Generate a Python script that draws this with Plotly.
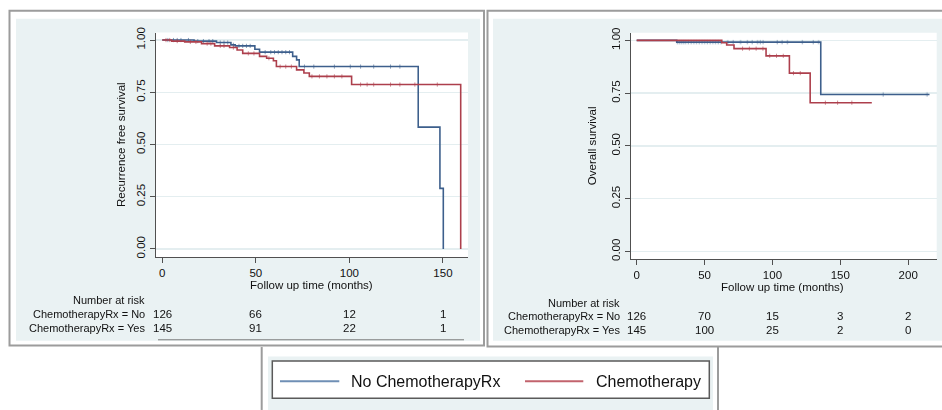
import plotly.graph_objects as go

W, H = 942, 410

# ---------------- data ----------------
# Recurrence free survival (left panel)
rfs_no_t = [0, 17, 29, 36.7, 39, 49.5, 52, 69.7, 71.8, 73.2, 136.8, 148.4, 150.2]
rfs_no_s = [1.0, 0.995, 0.988, 0.977, 0.972, 0.956, 0.942, 0.922, 0.905, 0.873, 0.583, 0.290, 0.0]
rfs_yes_t = [0, 5, 12, 21, 28, 36, 40, 43, 52, 55.8, 59.4, 61, 71.8, 75.7, 78.6, 101.2, 159.5]
rfs_yes_s = [1.0, 0.995, 0.991, 0.983, 0.972, 0.964, 0.952, 0.936, 0.922, 0.913, 0.901, 0.873,
             0.857, 0.842, 0.826, 0.787, 0.0]
rfs_no_cens = [3, 6, 8, 10, 14, 19, 22, 25, 27, 31, 33, 35, 38, 41, 43, 45, 47, 55, 58, 60, 62,
               64, 66, 68, 76, 81, 92, 100.5, 106, 113, 122, 127]
rfs_yes_cens = [2, 4, 8, 15, 18, 24, 26, 31, 33, 38, 46, 49, 57, 63, 66, 69, 80, 84, 88, 92, 96,
                106, 109.5, 113, 122, 127, 135, 147]

# Overall survival (right panel)
os_no_t = [0, 29.5, 135.6]
os_no_s = [1.0, 0.992, 0.744]
os_no_last = 215.7
os_yes_t = [0, 62.7, 66.3, 71.7, 95.3, 112.5, 127.8]
os_yes_s = [1.0, 0.989, 0.978, 0.961, 0.927, 0.845, 0.705]
os_yes_last = 173.2
os_no_cens = [30, 31.5, 33, 34.5, 36, 38, 40, 42, 44, 46, 48, 50, 52, 54, 56, 58, 60, 62, 67, 71,
              76.5, 81.5, 85, 89, 91, 93, 103.5, 107, 111, 122, 130, 134, 181.5, 213.8]
os_yes_cens = [78, 83, 88, 93, 98, 103, 108, 115.5, 120.5, 139, 148, 158.5]

# Number at risk tables
risk_rows = ["ChemotherapyRx = No", "ChemotherapyRx = Yes"]
rfs_risk_times = [0, 50, 100, 150]
rfs_risk_no = [126, 66, 12, 1]
rfs_risk_yes = [145, 91, 22, 1]
os_risk_times = [0, 50, 100, 150, 200]
os_risk_no = [126, 70, 15, 3, 2]
os_risk_yes = [145, 100, 25, 2, 0]

legend_labels = ["No ChemotherapyRx", "Chemotherapy"]

# ---------------- styles ----------------
BLUE = "#3d5f8c"
RED = "#ad3f4c"
BLUE_LEG = "#6f8fb5"
RED_LEG = "#c2636d"
BG = "#eaf2f3"
GRID = "#e4eef0"
FRAME = "#9c9c9c"
FONT = "Liberation Sans, Arial, sans-serif"


def px(x):
    return x / W


def py(y):
    return 1 - y / H


def step_at(ts, ss, t):
    v = ss[0]
    for ti, si in zip(ts, ss):
        if ti <= t:
            v = si
    return v


fig = go.Figure()


def add_curve(ts, ss, last, cens, color, xa, ya):
    xs = list(ts)
    ys = list(ss)
    if last is not None:
        xs.append(last)
        ys.append(ss[-1])
    fig.add_trace(go.Scatter(x=xs, y=ys, mode="lines", line=dict(color=color, width=1.6, shape="hv"),
                             xaxis=xa, yaxis=ya, showlegend=False, hoverinfo="skip"))
    fig.add_trace(go.Scatter(x=cens, y=[step_at(ts, ss, c) for c in cens], mode="markers",
                             marker=dict(symbol="line-ns", size=3, line=dict(width=1, color=color)),
                             opacity=0.6, xaxis=xa, yaxis=ya, showlegend=False, hoverinfo="skip"))


add_curve(rfs_no_t, rfs_no_s, None, rfs_no_cens, BLUE, "x", "y")
add_curve(rfs_yes_t, rfs_yes_s, None, rfs_yes_cens, RED, "x", "y")
add_curve(os_no_t, os_no_s, os_no_last, os_no_cens, BLUE, "x2", "y2")
add_curve(os_yes_t, os_yes_s, os_yes_last, os_yes_cens, RED, "x2", "y2")

ytick_vals = [0, 0.25, 0.5, 0.75, 1.0]
ytick_text = ["0.00", "0.25", "0.50", "0.75", "1.00"]

axis_common = dict(showline=True, linecolor="#505050", linewidth=1, ticks="outside", ticklen=5,
                   tickcolor="#505050", tickfont=dict(family=FONT, size=11.5, color="#111"),
                   zeroline=False, fixedrange=True)

fig.update_layout(
    width=W, height=H,
    margin=dict(l=0, r=0, t=0, b=0),
    paper_bgcolor="white",
    plot_bgcolor="rgba(0,0,0,0)",
    font=dict(family=FONT, color="#111"),
    xaxis=dict(domain=[px(155.7), px(468)], range=[-3.5, 163.4], tickvals=rfs_risk_times,
               showgrid=False, anchor="y", **axis_common),
    yaxis=dict(domain=[py(256.7), py(28)], range=[-0.04, 1.036], tickvals=ytick_vals,
               ticktext=ytick_text, tickangle=-90, showgrid=True, gridcolor=GRID, gridwidth=1.5,
               anchor="x", **axis_common),
    xaxis2=dict(domain=[px(630.7), px(936.7)], range=[-4.4, 221], tickvals=os_risk_times,
                showgrid=False, anchor="y2", **axis_common),
    yaxis2=dict(domain=[py(258.3), py(28.3)], range=[-0.035, 1.036], tickvals=ytick_vals,
                ticktext=ytick_text, tickangle=-90, showgrid=True, gridcolor=GRID, gridwidth=1.5,
                anchor="x2", **axis_common),
)

shapes = []


def rect(x0, y0, x1, y1, fill=None, line_color=None, lw=0):
    shapes.append(dict(type="rect", xref="paper", yref="paper", x0=px(x0), x1=px(x1),
                       y0=py(y1), y1=py(y0), fillcolor=fill if fill else "rgba(0,0,0,0)",
                       line=dict(color=line_color if line_color else "rgba(0,0,0,0)", width=lw),
                       layer="below"))


def hline(x0, x1, y, color, lw, layer="below"):
    shapes.append(dict(type="line", xref="paper", yref="paper", x0=px(x0), x1=px(x1),
                       y0=py(y), y1=py(y), line=dict(color=color, width=lw), layer=layer))


def vline(x, y0, y1, color, lw, layer="below"):
    shapes.append(dict(type="line", xref="paper", yref="paper", x0=px(x), x1=px(x),
                       y0=py(y0), y1=py(y1), line=dict(color=color, width=lw), layer=layer))


# panel frames
rect(9.5, 5.8, 484, 346.5, fill="white", line_color=FRAME, lw=2)
rect(487.5, 5.8, 950, 347.5, fill="white", line_color=FRAME, lw=2)
# light backgrounds
rect(16, 14, 480, 341.7, fill=BG)
rect(493, 14, 950, 341.7, fill=BG)
# white plot regions
rect(155.7, 28, 468, 256.7, fill="white")
rect(630.7, 28.3, 936.7, 258.3, fill="white")
# stray rule under left table
hline(158, 464, 340.6, "#7a7a7a", 1)
# legend panel
vline(261.7, 348, 412, FRAME, 2)
vline(718, 348, 412, FRAME, 2)
rect(268, 357.5, 713, 412, fill=BG)
rect(272.3, 362.3, 709.3, 400, fill="white", line_color="#5a5a5a", lw=1.5)
hline(280, 339.3, 382.7, BLUE_LEG, 2, layer="above")
hline(525, 583.3, 382.7, RED_LEG, 2, layer="above")

annotations = []


def text(x, y, s, size=11.5, xanchor="center", angle=0, xref="paper"):
    annotations.append(dict(x=x if xref != "paper" else px(x), y=py(y), xref=xref, yref="paper",
                            text=s, showarrow=False, xanchor=xanchor, yanchor="middle",
                            textangle=angle, font=dict(family=FONT, size=size, color="#111")))


# axis titles
text(121.7, 141.7, "Recurrence free survival", size=11.5, angle=-90)
text(311.7, 285, "Follow up time (months)", size=11.5)
text(592.3, 143.3, "Overall survival", size=11.5, angle=-90)
text(782.7, 287.3, "Follow up time (months)", size=11.5)

# number at risk (left)
text(147, 300, "Number at risk", xanchor="right", size=11)
text(147, 314.3, risk_rows[0], xanchor="right", size=11)
text(147, 329, risk_rows[1], xanchor="right", size=11)
for t, a, b in zip(rfs_risk_times, rfs_risk_no, rfs_risk_yes):
    text(t, 314.3, str(a), xref="x")
    text(t, 329, str(b), xref="x")

# number at risk (right)
text(622, 302.7, "Number at risk", xanchor="right", size=11)
text(622, 316.7, risk_rows[0], xanchor="right", size=11)
text(622, 331, risk_rows[1], xanchor="right", size=11)
for t, a, b in zip(os_risk_times, os_risk_no, os_risk_yes):
    text(t, 316.7, str(a), xref="x2")
    text(t, 331, str(b), xref="x2")

# legend text
text(349, 382.7, legend_labels[0], size=16, xanchor="left")
text(594, 382.7, legend_labels[1], size=16, xanchor="left")

fig.update_layout(shapes=shapes, annotations=annotations)

fig.write_html("out.html", config={"displayModeBar": False, "staticPlot": True},
               post_script="document.body.style.margin='0';document.body.style.overflow='hidden';")
